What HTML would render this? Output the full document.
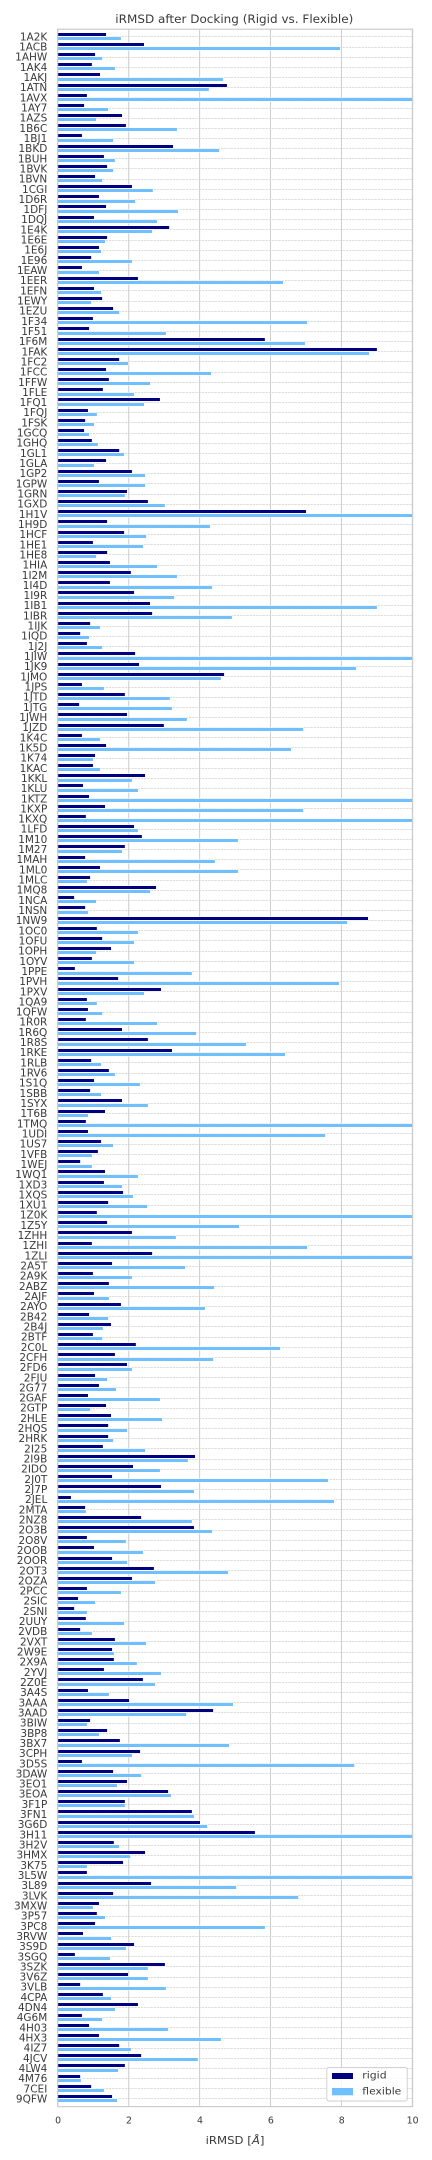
<!DOCTYPE html>
<html lang="en">
<head>
<meta charset="utf-8">
<title>iRMSD after Docking</title>
<style>
html,body{margin:0;padding:0;background:#fff;width:432px;height:2160px;overflow:hidden}
svg{display:block;font-family:"DejaVu Sans","Liberation Sans",sans-serif}
text{fill:#3a3a3a}
</style>
</head>
<body>
<svg id="chart" xmlns="http://www.w3.org/2000/svg" width="432" height="2160" viewBox="0 0 432 2160">
<rect x="0" y="0" width="432" height="2160" fill="#fff"/>
<defs><clipPath id="plot-clip"><rect x="57.8" y="29" width="354.6" height="2077.6"/></clipPath></defs>
<text x="115.3" y="23" font-size="11.8" textLength="238" lengthAdjust="spacingAndGlyphs">iRMSD after Docking (Rigid vs. Flexible)</text>
<g id="grid"></g>
<g id="bars" clip-path="url(#plot-clip)"></g>
<g id="ylabels"></g>
<g id="xlabels"></g>
<rect x="57.6" y="29.2" width="355" height="2077.4" fill="none" stroke="#cccccc" stroke-width="1.2"/>
<text x="205.7" y="2144" font-size="11" textLength="58.7" lengthAdjust="spacingAndGlyphs">iRMSD [<tspan font-style="italic">Å</tspan>]</text>
<g>
<rect x="326.8" y="2067.4" width="80.4" height="33.6" rx="2" fill="#fff" fill-opacity="0.8" stroke="#cccccc" stroke-width="0.9"/>
<rect x="332" y="2073" width="21" height="6" fill="#000080"/>
<text x="362.3" y="2078.6" font-size="10" textLength="24.3" lengthAdjust="spacingAndGlyphs">rigid</text>
<rect x="332" y="2088" width="21" height="7.3" fill="#70bfff"/>
<text x="362.3" y="2094.3" font-size="10" textLength="39" lengthAdjust="spacingAndGlyphs">flexible</text>
</g>
</svg>
<script>
const categories = ["1A2K","1ACB","1AHW","1AK4","1AKJ","1ATN","1AVX","1AY7","1AZS","1B6C","1BJ1","1BKD","1BUH","1BVK","1BVN","1CGI",
"1D6R","1DFJ","1DQJ","1E4K","1E6E","1E6J","1E96","1EAW","1EER","1EFN","1EWY","1EZU","1F34","1F51","1F6M","1FAK","1FC2",
"1FCC","1FFW","1FLE","1FQ1","1FQJ","1FSK","1GCQ","1GHQ","1GL1","1GLA","1GP2","1GPW","1GRN","1GXD","1H1V","1H9D","1HCF","1HE1",
"1HE8","1HIA","1I2M","1I4D","1I9R","1IB1","1IBR","1IJK","1IQD","1J2J","1JIW","1JK9","1JMO","1JPS","1JTD","1JTG","1JWH","1JZD",
"1K4C","1K5D","1K74","1KAC","1KKL","1KLU","1KTZ","1KXP","1KXQ","1LFD","1M10","1M27","1MAH","1ML0","1MLC","1MQ8","1NCA","1NSN",
"1NW9","1OC0","1OFU","1OPH","1OYV","1PPE","1PVH","1PXV","1QA9","1QFW","1R0R","1R6Q","1R8S","1RKE","1RLB","1RV6","1S1Q",
"1SBB","1SYX","1T6B","1TMQ","1UDI","1US7","1VFB","1WEJ","1WQ1","1XD3","1XQS","1XU1","1Z0K","1Z5Y","1ZHH","1ZHI","1ZLI","2A5T",
"2A9K","2ABZ","2AJF","2AYO","2B42","2B4J","2BTF","2C0L","2CFH","2FD6","2FJU","2G77","2GAF","2GTP","2HLE","2HQS","2HRK","2I25",
"2I9B","2IDO","2J0T","2J7P","2JEL","2MTA","2NZ8","2O3B","2O8V","2OOB","2OOR","2OT3","2OZA","2PCC","2SIC","2SNI","2UUY","2VDB",
"2VXT","2W9E","2X9A","2YVJ","2Z0E","3A4S","3AAA","3AAD","3BIW","3BP8","3BX7","3CPH","3D5S","3DAW","3EO1","3EOA","3F1P",
"3FN1","3G6D","3H11","3H2V","3HMX","3K75","3L5W","3L89","3LVK","3MXW","3P57","3PC8","3RVW","3S9D","3SGQ","3SZK","3V6Z","3VLB",
"4CPA","4DN4","4G6M","4H03","4HX3","4IZ7","4JCV","4LW4","4M76","7CEI","9QFW"];
const rigid = [1.36,2.43,1.05,0.96,1.19,4.77,0.82,0.74,1.81,1.92,0.68,3.25,1.30,1.39,1.05,2.09,
1.16,1.36,1.02,3.14,1.39,1.16,0.94,0.68,2.26,1.02,1.25,1.56,0.99,0.88,5.84,9.00,1.73,
1.36,1.44,1.27,2.88,0.85,0.77,0.74,0.96,1.73,1.36,2.09,1.16,1.95,2.54,7.00,1.39,1.87,0.99,
1.39,1.47,2.06,1.47,2.15,2.60,2.66,0.91,0.63,0.82,2.18,2.29,4.69,0.68,1.89,0.60,1.95,2.99,
0.68,1.36,1.05,0.99,2.46,0.71,0.88,1.33,0.79,2.15,2.37,1.89,0.77,1.19,0.91,2.77,0.46,0.77,
8.75,1.10,1.25,1.50,0.96,0.48,1.70,2.91,0.82,0.85,0.79,1.81,2.54,3.22,0.94,1.44,1.02,
0.91,1.81,1.33,0.79,0.85,1.22,1.13,0.63,1.33,1.30,1.84,1.42,1.10,1.39,2.09,0.96,2.66,1.53,
0.99,1.44,1.02,1.78,0.88,1.50,0.99,2.20,1.61,1.95,1.05,1.16,0.85,1.36,1.50,1.42,1.42,1.27,
3.87,2.12,1.53,2.91,0.37,0.77,2.35,3.84,0.82,1.02,1.53,2.71,2.09,0.82,0.57,0.46,0.79,0.63,
1.61,1.53,1.58,1.30,2.40,0.85,2.01,4.38,0.91,1.39,1.75,2.32,0.68,1.56,1.95,3.11,1.89,
3.78,4.01,5.56,1.58,2.46,1.84,0.82,2.63,1.56,1.16,1.10,1.05,0.71,2.15,0.48,3.02,1.98,0.63,
1.27,2.26,0.68,0.88,1.16,1.73,2.35,1.89,0.63,0.94,1.53];
const flexible = [1.78,7.96,1.25,1.61,4.66,4.26,12,1.42,1.08,3.36,1.56,4.55,1.61,1.56,1.25,2.68,
2.18,3.39,2.80,2.66,1.33,1.22,2.09,1.16,6.35,1.22,0.94,1.73,7.03,3.05,6.97,8.78,1.98,
4.32,2.60,2.15,2.43,1.10,1.02,0.88,1.13,1.87,1.02,2.46,2.46,1.89,3.02,12,4.29,2.49,2.40,
1.08,2.80,3.36,4.35,3.28,9.00,4.91,1.19,0.88,1.25,12,8.41,4.60,1.30,3.16,3.22,3.64,6.92,
1.19,6.58,0.99,1.19,2.09,2.26,12,6.92,12,2.26,5.08,1.81,4.43,5.08,0.82,2.60,1.08,0.85,
8.16,2.26,2.15,1.08,2.15,3.78,7.93,2.43,1.10,1.25,2.80,3.90,5.31,6.41,1.22,1.61,2.32,
1.22,2.54,0.85,12,7.54,1.56,0.96,0.96,2.26,1.81,2.12,2.52,12,5.11,3.33,7.03,12,3.59,
2.09,4.41,1.44,4.15,1.42,1.27,1.25,6.27,4.38,2.09,1.39,1.64,2.88,0.91,2.94,1.95,1.56,2.46,
3.67,2.88,7.62,3.84,7.79,0.79,3.78,4.35,1.92,2.40,1.95,4.80,2.74,1.78,1.05,0.82,1.87,0.96,
2.49,1.58,2.23,2.91,2.74,1.44,4.94,3.62,0.82,1.16,4.83,2.09,8.36,2.35,1.67,3.19,1.89,
3.84,4.21,12,1.73,2.04,0.82,12,5.03,6.78,0.99,1.33,5.84,1.50,1.92,1.47,2.54,2.54,3.05,
1.50,1.61,1.25,3.11,4.60,2.06,3.95,1.70,0.65,1.30,1.67];
const xTicks = [0,2,4,6,8,10];

const NS = "http://www.w3.org/2000/svg";
function xScale(v){ return 57.83 + v * 35.45; }
function yScale(i){ return 36.4 + i * 10.158; }
function make(tag, parent, attrs){
  const el = document.createElementNS(NS, tag);
  for (const k in attrs) el.setAttribute(k, attrs[k]);
  parent.appendChild(el);
  return el;
}
const gridG = document.getElementById("grid");
const barsG = document.getElementById("bars");
const yG = document.getElementById("ylabels");
const xG = document.getElementById("xlabels");

xTicks.forEach(function(t){
  const gl = make("line", gridG, {x1:xScale(t), x2:xScale(t), y1:29, y2:2106.6, stroke:"#cccccc", "stroke-width":1});
  
  
  const lb = make("text", xG, {x:xScale(t)+0.3, y:2123.6, "text-anchor":"middle", "font-size":9.4});
  
  
  lb.textContent = t;
});

categories.forEach(function(name, i){
  const cy = yScale(i);
  const hl = make("line", gridG, {x1:57.8, x2:412.4, y1:Math.round(cy)+0.5, y2:Math.round(cy)+0.5, stroke:"#cfcfcf", "stroke-width":0.8, "stroke-dasharray":"2.2 1"});
  
  
  const lb = make("text", yG, {x:47.3, y:cy+4, "text-anchor":"end", "font-size":10.5});
  
  
  lb.textContent = name;

  const x0 = xScale(0) + 0.2;
  const r = make("rect", barsG, {x:x0, y:Math.round(cy-3.6), width:Math.max(0, xScale(rigid[i])-x0), height:3, fill:"#000080", stroke:"#fff", "stroke-width":0.9, "paint-order":"stroke"});
  
  
  const f = make("rect", barsG, {x:x0, y:Math.round(cy+0.6), width:Math.max(0, xScale(flexible[i])-x0), height:3, fill:"#70bfff", stroke:"#fff", "stroke-width":0.9, "paint-order":"stroke"});
  
  
});
</script>
</body>
</html>
